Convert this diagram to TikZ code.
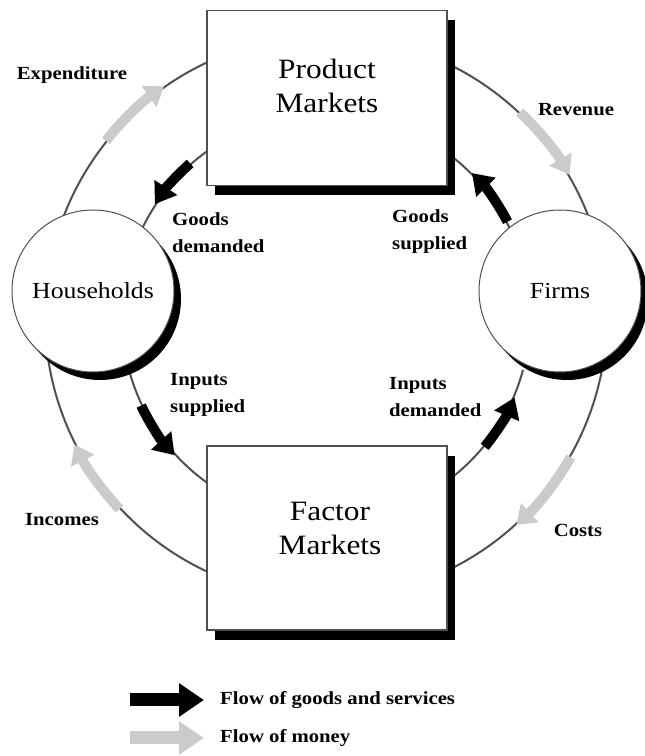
\documentclass[tikz,border=0pt]{standalone}
\usepackage{fontspec}
\setmainfont{Liberation Serif}
\usetikzlibrary{arrows.meta,shadows}
\definecolor{linegray}{HTML}{505050}
\definecolor{moneygray}{HTML}{CBCBCB}
\tikzset{
  conn/.style={draw=linegray, line width=2pt},
  goodsarrow/.style={draw=black, line width=10pt, -{Triangle[length=20pt,width=26pt]}},
  moneyarrow/.style={draw=moneygray, line width=10pt, -{Triangle[length=18pt,width=25pt]}},
  market/.style={draw=linegray, line width=1.3pt, fill=white, minimum width=240pt,
    drop shadow={shadow xshift=8pt, shadow yshift=-10pt, fill=black, opacity=1}},
  agent/.style={circle, draw=linegray, line width=1pt, fill=white, minimum size=162pt, inner sep=0pt,
    font=\fontsize{23}{28}\selectfont,
    drop shadow={shadow xshift=7pt, shadow yshift=-8pt, fill=black, opacity=1}},
  bigtext/.style={align=center, font=\fontsize{28}{34}\selectfont, xscale=1.12},
  lab/.style={align=left, font=\bfseries\fontsize{18.5}{27}\selectfont, xscale=1.12, inner sep=0pt},
}
\begin{document}
\begin{tikzpicture}[x=1pt,y=1pt]
\useasboundingbox[fill=white] (0,0) rectangle (645,756);
\coordinate (C) at (326,439);
% outer circle connectors (money)
\draw[conn] ([shift={(108:281pt)}]C) arc[start angle=108, end angle=165, radius=281pt];
\draw[conn] ([shift={(10:281pt)}]C) arc[start angle=10, end angle=72, radius=281pt];
\draw[conn] ([shift={(-72:281pt)}]C) arc[start angle=-72, end angle=-5, radius=281pt];
\draw[conn] ([shift={(185:281pt)}]C) arc[start angle=185, end angle=252, radius=281pt];
% inner circle connectors (goods)
\draw[conn] ([shift={(112:204pt)}]C) arc[start angle=112, end angle=165, radius=204pt];
\draw[conn] ([shift={(15:204pt)}]C) arc[start angle=15, end angle=68, radius=204pt];
\draw[conn] ([shift={(195:204pt)}]C) arc[start angle=195, end angle=248, radius=204pt];
\draw[conn] ([shift={(-68:204pt)}]C) arc[start angle=-68, end angle=-15, radius=204pt];
% money arrows
\draw[moneyarrow] ([shift={(141.3:282pt)}]C) arc[start angle=141.3, end angle=125.1, radius=282pt];
\draw[moneyarrow] ([shift={(46.6:282pt)}]C) arc[start angle=46.6, end angle=30.3, radius=282pt];
\draw[moneyarrow] ([shift={(-29.8:282pt)}]C) arc[start angle=-29.8, end angle=-47.5, radius=282pt];
\draw[moneyarrow] ([shift={(222.9:282pt)}]C) arc[start angle=222.9, end angle=206.9, radius=282pt];
% goods arrows
\draw[goodsarrow] ([shift={(131.5:205pt)}]C) arc[start angle=131.5, end angle=146.6, radius=205pt];
\draw[goodsarrow] ([shift={(27.7:205pt)}]C) arc[start angle=27.7, end angle=44.6, radius=205pt];
\draw[goodsarrow] ([shift={(205.6:205pt)}]C) arc[start angle=205.6, end angle=222.4, radius=205pt];
\draw[goodsarrow] ([shift={(-39.3:205pt)}]C) arc[start angle=-39.3, end angle=-23.1, radius=205pt];
% markets
\node[market, minimum height=175pt] (pm) at (327,658) {};
\node[bigtext] (pmt) at (327,670) {Product\\Markets};
\node[market, minimum height=184pt] (fm) at (327,218) {};
\node[bigtext] (fmt) at (330,228) {Factor\\Markets};
% agents
\node[agent] (hh) at (93,465) {\scalebox{1.12}[1]{Households}};
\node[agent] (firms) at (560,465) {\scalebox{1.12}[1]{Firms}};
% labels
\node[lab] (lexp) at (72,681) {Expenditure};
\node[lab] (lrev) at (576,646) {Revenue};
\node[lab, anchor=west] (lgd) at (172,523) {Goods\\demanded};
\node[lab, anchor=west] (lgs) at (392,524) {Goods\\supplied};
\node[lab, anchor=west] (lis) at (170,361) {Inputs\\supplied};
\node[lab, anchor=west] (lid) at (389,359) {Inputs\\demanded};
\node[lab] (linc) at (62,236) {Incomes};
\node[lab] (lcost) at (578,226) {Costs};
% legend
\coordinate (k1a) at (130,56);
\coordinate (k1b) at (204,56);
\coordinate (k2a) at (130,18);
\coordinate (k2b) at (204,18);
\draw[draw=black, line width=13pt, -{Triangle[length=25pt,width=32pt]}] (k1a) -- (k1b);
\draw[draw=moneygray, line width=13pt, -{Triangle[length=25pt,width=32pt]}] (k2a) -- (k2b);
\node[lab, anchor=west] (leg1) at (220,56) {Flow of goods and services};
\node[lab, anchor=west] (leg2) at (220,18) {Flow of money};
\end{tikzpicture}
\end{document}
